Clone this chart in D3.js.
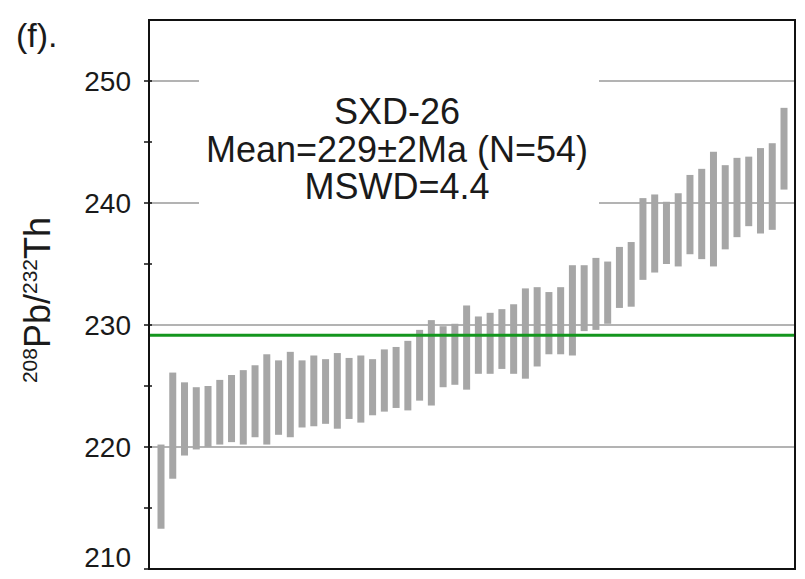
<!DOCTYPE html>
<html lang="en">

<head>
    <meta charset="utf-8">
    <title>SXD-26 208Pb/232Th ages</title>
    <script type="text/javascript" src="https://cdn.jsdelivr.net/npm/d3@7"></script>
    <style>
        body { margin: 0; background: #fff; }
        text { font-family: "Liberation Sans", Arial, sans-serif; fill: #1a1a1a; }
    </style>
</head>

<body>
    <div id="chart"></div>

    <script>
        // spot ages, lower and upper ends of each error bar (Ma)
        const spots = d3.range(1, 55);
        const lows = [213.3, 217.4, 219.3, 219.8, 220.0, 220.2, 220.4, 220.2, 220.8, 220.2,
                      221.0, 220.8, 221.6, 221.7, 221.9, 221.5, 222.3, 222.0, 222.6, 222.9,
                      223.2, 223.0, 223.8, 223.4, 224.9, 225.1, 224.7, 226.0, 226.0, 226.4,
                      226.0, 225.6, 226.6, 227.6, 227.6, 227.5, 229.5, 229.6, 230.1, 231.4,
                      231.5, 233.7, 234.3, 235.0, 234.8, 235.8, 235.4, 234.8, 236.2, 237.2,
                      238.1, 237.5, 237.8, 241.1];
        const highs = [220.2, 226.1, 225.3, 224.9, 225.0, 225.5, 225.9, 226.3, 226.7, 227.6,
                       227.1, 227.8, 227.1, 227.5, 227.2, 227.7, 227.3, 227.5, 227.2, 228.0,
                       228.2, 228.7, 229.6, 230.4, 229.9, 230.1, 231.6, 230.7, 231.0, 231.3,
                       231.7, 233.0, 233.1, 232.7, 233.1, 234.9, 234.9, 235.5, 235.2, 236.4,
                       236.8, 240.4, 240.7, 240.1, 240.8, 242.3, 242.8, 244.2, 243.1, 243.7,
                       243.8, 244.5, 244.9, 247.8];
        const meanAge = 229.15;
        const majorTicks = [210, 220, 230, 240, 250];
        const minorTicks = [215, 225, 235, 245];
        const infoLines = ["SXD-26", "Mean=229\u00b12Ma (N=54)", "MSWD=4.4"];

        const width = 805;
        const height = 579;
        const plot = { left: 149, right: 795, top: 20, bottom: 569 };

        const svg = d3.select("#chart")
            .append("svg")
            .attr("width", width)
            .attr("height", height);

        const y = d3.scaleLinear()
            .domain([210, 250])
            .range([plot.bottom, 81]);

        const x = d3.scalePoint()
            .domain(spots)
            .range([161, 784]);

        // gridlines
        svg.append("g")
            .selectAll("line")
            .data(majorTicks.slice(1))
            .enter()
            .append("line")
            .attr("x1", plot.left)
            .attr("x2", plot.right)
            .attr("y1", d => y(d))
            .attr("y2", d => y(d))
            .attr("stroke", "#9a9a9a")
            .attr("stroke-width", 1.5);

        // white box behind the annotation hides the gridlines
        svg.append("rect")
            .attr("x", 199)
            .attr("y", 76)
            .attr("width", 400)
            .attr("height", 134)
            .attr("fill", "#fff");

        // error bars
        svg.append("g")
            .selectAll("rect")
            .data(spots)
            .enter()
            .append("rect")
            .attr("x", d => x(d) - 3.5)
            .attr("width", 7)
            .attr("y", (d, i) => y(highs[i]))
            .attr("height", (d, i) => y(lows[i]) - y(highs[i]))
            .attr("fill", "#a6a6a6");

        // weighted mean
        svg.append("line")
            .attr("x1", plot.left)
            .attr("x2", plot.right)
            .attr("y1", y(meanAge))
            .attr("y2", y(meanAge))
            .attr("stroke", "#14961e")
            .attr("stroke-width", 3);

        // left axis ticks
        svg.append("g")
            .selectAll("line")
            .data(majorTicks.concat(minorTicks))
            .enter()
            .append("line")
            .attr("x1", plot.left - 5)
            .attr("x2", plot.left + 3)
            .attr("y1", d => y(d))
            .attr("y2", d => y(d))
            .attr("stroke", "#111")
            .attr("stroke-width", 1.5);

        // the bottom label sits a little higher so it stays inside the picture
        svg.append("g")
            .selectAll("text")
            .data(majorTicks)
            .enter()
            .append("text")
            .attr("x", 131)
            .attr("y", d => Math.min(y(d), 557))
            .attr("dy", "0.36em")
            .attr("text-anchor", "end")
            .attr("font-size", 28)
            .text(d => d);

        // frame
        svg.append("rect")
            .attr("x", plot.left)
            .attr("y", plot.top)
            .attr("width", plot.right - plot.left)
            .attr("height", plot.bottom - plot.top)
            .attr("fill", "none")
            .attr("stroke", "#111")
            .attr("stroke-width", 2);

        // annotation
        svg.append("g")
            .selectAll("text")
            .data(infoLines)
            .enter()
            .append("text")
            .attr("x", 397)
            .attr("y", (d, i) => 124 + i * 37.5)
            .attr("text-anchor", "middle")
            .attr("font-size", 36)
            .text(d => d);

        // y label 208Pb/232Th
        const ylab = svg.append("text")
            .attr("transform", "translate(50,300) rotate(-90)")
            .attr("text-anchor", "middle")
            .attr("font-size", 36);
        ylab.append("tspan").attr("font-size", 21).attr("dy", -13).text("208");
        ylab.append("tspan").attr("dy", 13).text("Pb/");
        ylab.append("tspan").attr("font-size", 21).attr("dy", -13).text("232");
        ylab.append("tspan").attr("dy", 13).text("Th");

        svg.append("text")
            .attr("x", 16)
            .attr("y", 47)
            .attr("font-size", 34)
            .text("(f).");
    </script>
</body>

</html>
